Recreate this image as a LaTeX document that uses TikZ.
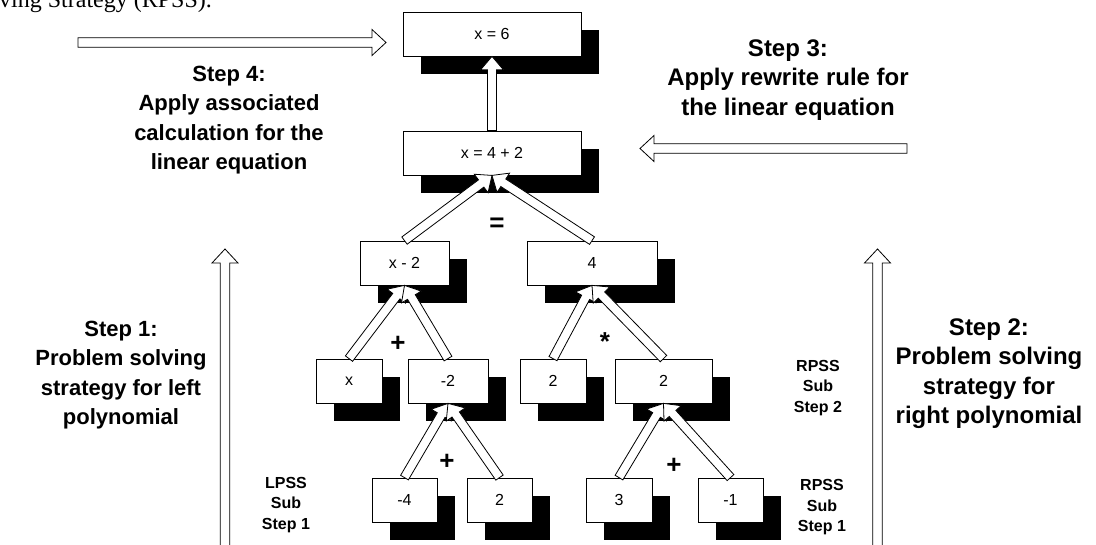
\documentclass[tikz,border=0pt]{standalone}
\usepackage{fontspec}
\setmainfont{Liberation Sans}
\newfontfamily\serifface{Liberation Serif}
\usetikzlibrary{calc,shadows}

% outlined block arrow from #1 to #2: shaft half-width #3, head half-width #4, head length #5
\newcommand\blockarr[5]{%
  \coordinate (ba-h) at ($(#2)!#5!(#1)$);
  \draw[blockarrow] ($(#1)!#3!90:(#2)$) -- ($(ba-h)!#3!90:(#2)$) -- ($(ba-h)!#4!90:(#2)$)
    -- (#2) -- ($(ba-h)!#4!-90:(#2)$) -- ($(ba-h)!#3!-90:(#2)$) -- ($(#1)!#3!-90:(#2)$) -- cycle;
}
\newcommand\treearr[2]{\blockarr{#1}{#2}{4.5pt}{11.5pt}{13.5pt}}
\newcommand\sidearr[2]{\blockarr{#1}{#2}{4.7pt}{13pt}{14pt}}

\tikzset{
  every node/.style={inner sep=0pt},
  box/.style={draw=black, line width=0.8pt, fill=white, minimum height=44pt,
    font=\fontsize{16}{19}\selectfont,
    general shadow={fill=black, shadow xshift=18pt, shadow yshift=-18pt}},
  blockarrow/.style={draw=black, line width=0.8pt, fill=white, line join=miter},
  steplabel/.style={align=center, font=\fontsize{22}{29.5}\selectfont\bfseries},
  bigsteplabel/.style={align=center, font=\fontsize{24}{29.5}\selectfont\bfseries},
  sublabel/.style={align=center, font=\fontsize{16}{20.5}\selectfont\bfseries},
  oplabel/.style={font=\fontsize{26}{26}\selectfont\bfseries},
}

\begin{document}
\begin{tikzpicture}[x=1pt, y=-1pt]
\useasboundingbox (0,0) rectangle (1096,545);

% running text above the figure
\node[anchor=base west, font=\serifface\fontsize{24}{24}\selectfont] (runin) at (-1,8) {ving Strategy (RPSS).};

% expression tree
\node[box, minimum width=178pt] (n6)   at (492,34)    {x = 6};
\node[box, minimum width=178pt] (n42)  at (492,153)   {x = 4 + 2};
\node[box, minimum width=89pt]  (nxm2) at (404.5,263) {x - 2};
\node[box, minimum width=130pt] (n4)   at (592,263)   {4};
\node[box, minimum width=66pt]  (nx)   at (349,381)   {x};
\node[box, minimum width=80pt]  (nm2)  at (448,381)   {-2};
\node[box, minimum width=66pt]  (n2a)  at (553,381)   {2};
\node[box, minimum width=97pt]  (n2b)  at (663.5,381) {2};
\node[box, minimum width=65pt]  (nm4)  at (404.5,500) {-4};
\node[box, minimum width=65pt]  (n2c)  at (499.5,500) {2};
\node[box, minimum width=66pt]  (n3)   at (619,500)   {3};
\node[box, minimum width=65pt]  (nm1)  at (730.5,500) {-1};

% operators
\node[oplabel] (opeq)  at (497,225) {=};
\node[oplabel] (opp1)  at (398,344) {+};
\node[oplabel] (opmul) at (605,342) {*};
\node[oplabel] (opp2)  at (447,462) {+};
\node[oplabel] (opp3)  at (674,466) {+};

% tree connectors
\treearr{n42.north}{n6.south}
\treearr{nxm2.north}{n42.south}
\treearr{n4.north}{n42.south}
\treearr{nx.north}{nxm2.south}
\treearr{nm2.north}{nxm2.south}
\treearr{n2a.north}{n4.south}
\treearr{n2b.north}{n4.south}
\treearr{nm4.north}{nm2.south}
\treearr{n2c.north}{nm2.south}
\treearr{n3.north}{n2b.south}
\treearr{nm1.north}{n2b.south}

% step arrows
\coordinate (s4a) at (78,42.5);
\coordinate (s4b) at (386,42.5);
\coordinate (s3a) at (907,148.5);
\coordinate (s3b) at (640,148.5);
\coordinate (s1a) at (225,560);
\coordinate (s1b) at (225,249);
\coordinate (s2a) at (877.5,560);
\coordinate (s2b) at (877.5,249);
\sidearr{s4a}{s4b}
\sidearr{s3a}{s3b}
\sidearr{s1a}{s1b}
\sidearr{s2a}{s2b}

% step labels
\node[steplabel] (st4) at (229,120) {Step 4:\\Apply associated\\calculation for the\\linear equation};
\node[bigsteplabel] (st3) at (788,80) {Step 3:\\Apply rewrite rule for\\the linear equation};
\node[steplabel] (st1) at (121,375) {Step 1:\\Problem solving\\strategy for left\\polynomial};
\node[bigsteplabel] (st2) at (989,373.5) {Step 2:\\Problem solving\\strategy for\\right polynomial};
\node[sublabel] (lp1) at (286,505) {LPSS\\Sub\\Step 1};
\node[sublabel] (rp2) at (818,388) {RPSS\\Sub\\Step 2};
\node[sublabel] (rp1) at (822,507.5) {RPSS\\Sub\\Step 1};
\end{tikzpicture}
\end{document}
